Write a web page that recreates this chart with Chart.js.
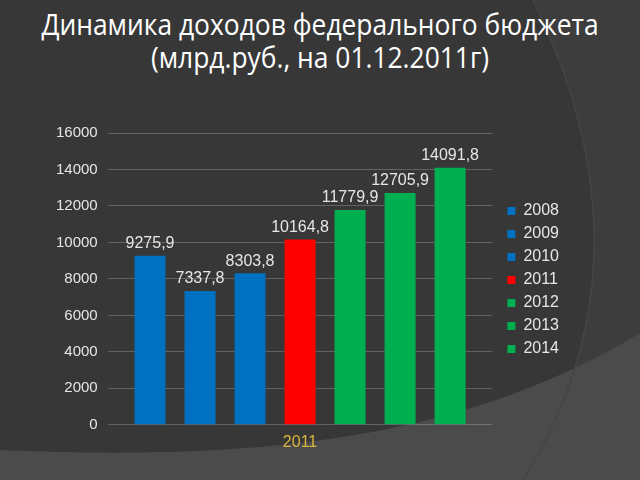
<!DOCTYPE html>
<html>
<head>
<meta charset="utf-8">
<script src="https://cdn.jsdelivr.net/npm/chart.js@4/dist/chart.umd.min.js"></script>
<style>
  html, body { margin: 0; padding: 0; }
  body {
    width: 640px; height: 480px; overflow: hidden; position: relative;
    background: #373737;
  }
  #bg { position: absolute; left: 0; top: 0; }
  h1 {
    position: absolute; left: 0; top: 7px; width: 640px; margin: 0;
    text-align: center; color: #ffffff; font-weight: normal;
    font-family: "Open Sans", sans-serif;
    font-size: 29px; line-height: 33px;
    transform: scaleX(0.91);
  }
  #wrap { position: absolute; left: 46px; top: 114px; width: 515px; height: 338px; }
</style>
</head>
<body>
<svg id="bg" width="640" height="480">
  <path d="M533,0 Q660,260 523,480 L640,480 L640,0 Z" fill="#3d3d3d"/>
  <path d="M0,450 C200,458 440,455 640,333 L640,480 L0,480 Z" fill="#4b4b4b"/>
  <path d="M533,0 Q660,260 523,480" fill="none" stroke="#454545" stroke-width="1.5"/>
</svg>
<h1>Динамика доходов федерального бюджета<br>(млрд.руб., на 01.12.2011г)</h1>
<div id="wrap"><canvas id="chart"></canvas></div>
<script>
const years = ['2008', '2009', '2010', '2011', '2012', '2013', '2014'];
const values = [9275.9, 7337.8, 8303.8, 10164.8, 11779.9, 12705.9, 14091.8];
const barColors = ['#0070c0', '#0070c0', '#0070c0', '#ff0000', '#00b050', '#00b050', '#00b050'];
const categories = ['2011'];
const yTicks = [0, 2000, 4000, 6000, 8000, 10000, 12000, 14000, 16000];

const FONT = '"Liberation Sans", Arial, sans-serif';

const datasets = years.map((y, i) => ({
  label: y,
  data: [values[i]],
  backgroundColor: barColors[i],
  borderWidth: 0
}));

// draws the value above each bar, with a comma as decimal sign
const valueLabels = {
  id: 'valueLabels',
  afterDatasetsDraw(chart) {
    const ctx = chart.ctx;
    ctx.save();
    ctx.fillStyle = '#e6e6e6';
    ctx.font = '16px ' + FONT;
    ctx.textAlign = 'center';
    ctx.textBaseline = 'bottom';
    chart.data.datasets.forEach((ds, i) => {
      const meta = chart.getDatasetMeta(i);
      meta.data.forEach((bar, j) => {
        const txt = ds.data[j].toFixed(1).replace('.', ',');
        ctx.fillText(txt, bar.x, bar.y - 4);
      });
    });
    ctx.restore();
  }
};

// nudge the legend a bit right and up, like in the slide
const legendShift = {
  id: 'legendShift',
  afterLayout(chart) {
    const lg = chart.legend;
    lg.left += 8; lg.right += 8;
    lg.top -= 7; lg.bottom -= 7;
  }
};

new Chart(document.getElementById('chart'), {
  type: 'bar',
  data: { labels: categories, datasets: datasets },
  options: {
    responsive: true,
    maintainAspectRatio: false,
    animation: false,
    layout: { padding: { top: 8, right: 0, bottom: 0, left: 0 } },
    datasets: { bar: { categoryPercentage: 0.91, barPercentage: 0.62 } },
    plugins: {
      legend: {
        position: 'right',
        labels: {
          color: '#e6e6e6',
          font: { size: 16, family: FONT },
          boxWidth: 8, boxHeight: 8, padding: 7
        }
      },
      tooltip: { enabled: false }
    },
    scales: {
      x: {
        grid: { display: false },
        border: { display: false },
        ticks: { color: '#dcb43c', font: { size: 16, family: FONT }, padding: 0 }
      },
      y: {
        min: yTicks[0],
        max: yTicks[yTicks.length - 1],
        afterBuildTicks: (axis) => { axis.ticks = yTicks.map(v => ({ value: v })); },
        grid: { color: 'rgba(255,255,255,0.22)', drawTicks: false },
        border: { display: false },
        ticks: {
          color: '#e6e6e6', padding: 10,
          font: { size: 15, family: FONT },
          callback: (v) => String(v)
        }
      }
    }
  },
  plugins: [valueLabels, legendShift]
});
</script>
</body>
</html>
